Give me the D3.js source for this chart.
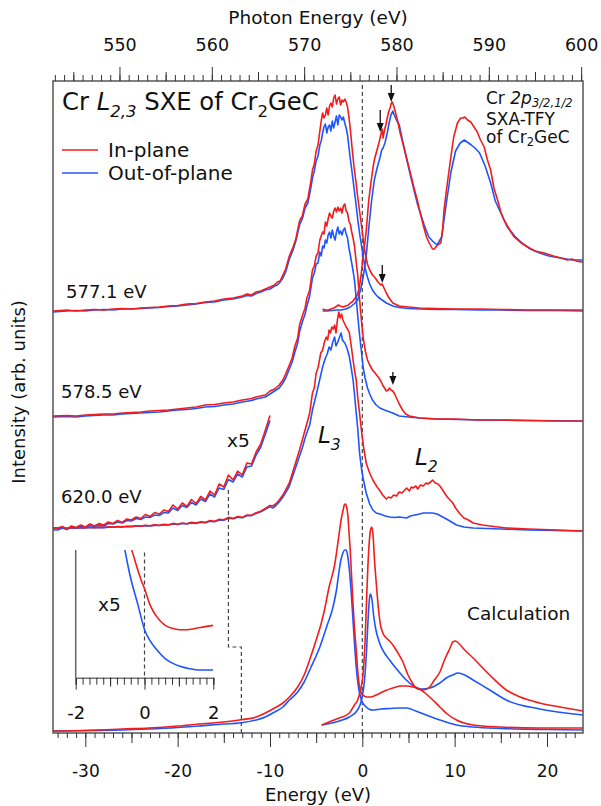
<!DOCTYPE html>
<html>
<head>
<meta charset="utf-8">
<script src="https://cdn.jsdelivr.net/npm/d3@7"></script>
<style>
  body { margin: 0; background: #fff; }
  text { font-family: "DejaVu Sans", sans-serif; fill: #111; }
</style>
</head>
<body>
<script>
// ---- data (energies in eV, intensities in arb. units above each baseline) ----
var bottomTicks = [-30, -20, -10, 0, 10, 20];
var topTicks = [550, 560, 570, 580, 590, 600];
var insetTicks = [-2, 0, 2];

// baseline offsets of the stacked spectra
var offTfy = 4.20, off5771 = 4.22, off5785 = 3.15, off620 = 2.05, offCalc = 0;

// SXA-TFY, photon energy (top axis)
var tfyRed = [[572.0,0.04],[572.3,0.03],[572.6,0.03],[572.9,0.04],[573.2,0.05],[573.4,0.06],[573.7,0.08],[573.9,0.07],[574.2,0.06],[574.5,0.07],[574.8,0.08],[575.0,0.10],[575.2,0.11],[575.45,0.14],[575.6,0.16],[575.8,0.19],[575.95,0.25],[576.1,0.33],[576.25,0.45],[576.4,0.58],[576.6,0.72],[576.75,0.85],[576.9,1.02],[577.0,1.13],[577.15,1.24],[577.3,1.35],[577.45,1.45],[577.6,1.53],[577.8,1.60],[577.95,1.65],[578.15,1.72],[578.35,1.80],[578.45,1.84],[578.55,1.75],[578.7,1.83],[578.85,1.88],[579.0,1.95],[579.15,2.01],[579.3,2.05],[579.45,2.10],[579.55,2.11],[579.7,2.07],[579.85,2.02],[580.1,1.93],[580.4,1.80],[580.8,1.66],[581.15,1.53],[581.5,1.40],[581.9,1.25],[582.25,1.13],[582.6,0.99],[582.95,0.86],[583.25,0.76],[583.5,0.71],[583.9,0.64],[584.1,0.64],[584.35,0.67],[584.6,0.69],[584.8,0.70],[585.0,0.84],[585.15,1.03],[585.4,1.22],[585.7,1.43],[585.95,1.60],[586.2,1.76],[586.6,1.90],[586.95,1.95],[587.2,1.95],[587.4,1.96],[587.7,1.93],[588.05,1.91],[588.4,1.86],[588.75,1.81],[589.1,1.73],[589.5,1.66],[589.85,1.53],[590.2,1.43],[590.55,1.25],[590.95,1.13],[591.3,1.01],[591.65,0.93],[592.2,0.84],[592.75,0.76],[593.5,0.70],[594.2,0.66],[595.0,0.62],[596.0,0.60],[597.0,0.57],[597.8,0.55],[598.5,0.53],[599.0,0.54],[599.5,0.52],[600.0,0.51],[600.2,0.51]];
var tfyBlue = [[572.0,0.02],[572.5,0.02],[573.0,0.025],[573.5,0.03],[574.0,0.03],[574.5,0.04],[575.0,0.06],[575.4,0.09],[575.8,0.13],[576.1,0.23],[576.4,0.36],[576.7,0.55],[577.0,0.85],[577.3,1.12],[577.6,1.33],[577.9,1.45],[578.2,1.55],[578.4,1.63],[578.55,1.65],[578.75,1.70],[579.0,1.80],[579.2,1.90],[579.4,1.98],[579.6,2.02],[579.75,1.98],[580.0,1.93],[580.3,1.88],[580.8,1.66],[581.55,1.36],[582.3,1.08],[583.0,0.88],[583.5,0.76],[583.9,0.72],[584.4,0.68],[584.9,0.76],[585.4,1.10],[585.9,1.41],[586.4,1.62],[586.9,1.70],[587.35,1.73],[587.8,1.70],[588.1,1.68],[588.5,1.65],[589.0,1.60],[589.6,1.47],[590.2,1.30],[590.7,1.12],[591.3,1.00],[592.0,0.86],[592.8,0.77],[593.6,0.70],[594.5,0.64],[595.5,0.60],[596.5,0.57],[597.8,0.55],[599.0,0.53],[600.2,0.53]];

// SXE excited at 577.1 eV
var xes5771Red = [[-33.5,0.00],[-32,0.01],[-31,0.00],[-30,0.01],[-29,0.015],[-28,0.01],[-27,0.02],[-26,0.025],[-25,0.02],[-24,0.03],[-23,0.035],[-22,0.04],[-21,0.05],[-20,0.055],[-19,0.07],[-18,0.075],[-17,0.09],[-16,0.10],[-15,0.12],[-14,0.13],[-13,0.15],[-12.5,0.17],[-12,0.16],[-11.5,0.19],[-11,0.20],[-10.5,0.22],[-10,0.24],[-9.5,0.26],[-9.2,0.29],[-8.9,0.30],[-8.6,0.36],[-8.3,0.42],[-7.9,0.55],[-7.5,0.64],[-7.2,0.72],[-6.8,0.90],[-6.5,0.95],[-6.2,1.07],[-5.9,1.12],[-5.6,1.28],[-5.4,1.41],[-5.2,1.47],[-5.0,1.60],[-4.8,1.66],[-4.6,1.80],[-4.45,1.90],[-4.3,1.98],[-4.15,1.93],[-4.0,1.96],[-3.85,2.03],[-3.7,1.96],[-3.55,2.05],[-3.4,2.08],[-3.25,2.04],[-3.1,2.13],[-2.95,2.16],[-2.8,2.07],[-2.65,2.12],[-2.5,2.14],[-2.35,2.06],[-2.2,2.11],[-2.05,2.09],[-1.9,2.12],[-1.75,2.09],[-1.6,2.04],[-1.45,1.94],[-1.3,1.82],[-1.1,1.62],[-0.9,1.44],[-0.7,1.30],[-0.5,1.14],[-0.3,1.00],[-0.1,0.86],[0.1,0.72],[0.3,0.58],[0.55,0.47],[0.8,0.41],[1.1,0.36],[1.4,0.33],[1.7,0.29],[2.0,0.26],[2.15,0.27],[2.3,0.24],[2.6,0.18],[2.9,0.13],[3.3,0.08],[4.0,0.05],[5,0.04],[6.2,0.03],[8,0.025],[10,0.02],[12.7,0.02],[15,0.015],[18,0.01],[21,0.01],[23.9,0.01]];
var xes5771Blue = [[-33.5,-0.01],[-32,0.00],[-31,0.005],[-30,0.00],[-29,0.01],[-28,0.015],[-27,0.01],[-26,0.02],[-25,0.02],[-24,0.025],[-23,0.03],[-22,0.035],[-21,0.045],[-20,0.05],[-19,0.06],[-18,0.07],[-17,0.085],[-16,0.09],[-15,0.11],[-14,0.12],[-13,0.14],[-12.5,0.155],[-12,0.15],[-11.5,0.175],[-11,0.19],[-10.5,0.21],[-10,0.22],[-9.5,0.25],[-9.2,0.26],[-8.9,0.29],[-8.6,0.33],[-8.3,0.39],[-7.9,0.52],[-7.5,0.61],[-7.2,0.70],[-6.8,0.86],[-6.5,0.92],[-6.2,1.03],[-5.9,1.08],[-5.6,1.22],[-5.4,1.33],[-5.2,1.40],[-5.0,1.50],[-4.8,1.55],[-4.6,1.66],[-4.45,1.70],[-4.3,1.78],[-4.15,1.84],[-4.0,1.87],[-3.85,1.78],[-3.7,1.84],[-3.55,1.86],[-3.4,1.80],[-3.25,1.90],[-3.1,1.83],[-2.95,1.89],[-2.8,1.95],[-2.65,1.86],[-2.5,1.96],[-2.35,1.94],[-2.2,1.91],[-2.05,1.94],[-1.9,1.88],[-1.75,1.83],[-1.6,1.76],[-1.45,1.64],[-1.3,1.52],[-1.1,1.38],[-0.9,1.23],[-0.7,1.08],[-0.5,0.92],[-0.3,0.78],[-0.1,0.66],[0.1,0.54],[0.3,0.43],[0.55,0.34],[0.8,0.27],[1.1,0.21],[1.4,0.17],[1.7,0.14],[2.0,0.12],[2.6,0.08],[3.3,0.05],[4,0.035],[5,0.025],[6.2,0.02],[8,0.015],[10,0.015],[12.7,0.01],[15,0.01],[18,0.005],[21,0.005],[23.9,0.0]];

// SXE excited at 578.5 eV
var xes5785Red = [[-33.5,0.02],[-32,0.025],[-31,0.02],[-30,0.03],[-29,0.035],[-28,0.04],[-27,0.04],[-26,0.05],[-25,0.055],[-24,0.06],[-23,0.07],[-22,0.075],[-21,0.08],[-20,0.09],[-19,0.10],[-18,0.11],[-17,0.13],[-16,0.135],[-15,0.15],[-14,0.16],[-13,0.18],[-12,0.195],[-11.5,0.21],[-11,0.22],[-10.5,0.23],[-10,0.27],[-9.5,0.29],[-9.0,0.33],[-8.6,0.38],[-8.3,0.44],[-7.9,0.53],[-7.6,0.60],[-7.3,0.72],[-7.0,0.80],[-6.8,0.93],[-6.5,1.02],[-6.2,1.10],[-6.0,1.20],[-5.7,1.28],[-5.4,1.48],[-5.2,1.52],[-5.0,1.62],[-4.8,1.65],[-4.6,1.78],[-4.45,1.82],[-4.3,1.86],[-4.15,1.84],[-4.0,1.96],[-3.85,1.92],[-3.7,1.99],[-3.55,2.05],[-3.4,2.02],[-3.25,2.00],[-3.1,2.07],[-2.95,2.10],[-2.8,2.06],[-2.65,2.11],[-2.5,2.07],[-2.35,2.10],[-2.2,2.05],[-2.05,2.12],[-1.9,2.14],[-1.75,2.07],[-1.6,2.05],[-1.45,1.97],[-1.3,1.94],[-1.15,1.86],[-1.0,1.80],[-0.85,1.72],[-0.65,1.55],[-0.5,1.43],[-0.35,1.25],[-0.2,1.08],[-0.05,0.93],[0.13,0.78],[0.35,0.66],[0.56,0.58],[0.8,0.53],[1.1,0.48],[1.3,0.46],[1.54,0.43],[1.8,0.40],[2.0,0.37],[2.2,0.33],[2.4,0.30],[2.6,0.27],[2.8,0.28],[2.95,0.30],[3.1,0.28],[3.3,0.27],[3.5,0.24],[3.7,0.20],[4.0,0.14],[4.36,0.08],[4.7,0.04],[5.1,0.02],[6.2,0.00],[8,-0.01],[10,-0.01],[12.7,-0.02],[15,-0.02],[18,-0.025],[21,-0.03],[23.9,-0.03]];
var xes5785Blue = [[-33.5,0.01],[-32,0.015],[-31,0.01],[-30,0.02],[-29,0.025],[-28,0.03],[-27,0.03],[-26,0.04],[-25,0.045],[-24,0.05],[-23,0.055],[-22,0.06],[-21,0.07],[-20,0.08],[-19,0.085],[-18,0.095],[-17,0.11],[-16,0.115],[-15,0.13],[-14,0.14],[-13,0.16],[-12,0.175],[-11.5,0.19],[-11,0.20],[-10.5,0.21],[-10,0.24],[-9.5,0.27],[-9.0,0.30],[-8.6,0.35],[-8.3,0.40],[-7.9,0.49],[-7.6,0.56],[-7.3,0.66],[-7.0,0.75],[-6.8,0.86],[-6.5,0.96],[-6.2,1.04],[-6.0,1.12],[-5.7,1.22],[-5.4,1.40],[-5.2,1.45],[-5.0,1.54],[-4.8,1.55],[-4.6,1.66],[-4.45,1.62],[-4.3,1.72],[-4.15,1.70],[-4.0,1.78],[-3.85,1.75],[-3.7,1.83],[-3.55,1.86],[-3.4,1.80],[-3.25,1.88],[-3.1,1.82],[-2.95,1.78],[-2.8,1.86],[-2.65,1.91],[-2.5,1.84],[-2.35,1.87],[-2.2,1.83],[-2.05,1.88],[-1.9,1.90],[-1.75,1.84],[-1.6,1.80],[-1.45,1.70],[-1.3,1.63],[-1.15,1.55],[-1.0,1.47],[-0.85,1.38],[-0.65,1.18],[-0.5,1.03],[-0.35,0.88],[-0.2,0.75],[0.1,0.50],[0.3,0.40],[0.56,0.30],[0.8,0.24],[1.1,0.18],[1.5,0.13],[1.9,0.10],[2.4,0.08],[3.0,0.06],[3.3,0.05],[4.0,0.02],[5,0.01],[6.2,0.00],[8,-0.01],[12.7,-0.02],[18,-0.025],[23.9,-0.03]];

// SXE excited at 620.0 eV: low-energy tail (also shown x5) and main part
var xes620TailRed = [[-33.5,0.000],[-33.0,0.000],[-32.5,0.003],[-32.0,-0.002],[-31.5,0.004],[-31.0,0.001],[-30.5,0.006],[-30.0,0.002],[-29.5,0.008],[-29.0,0.004],[-28.5,0.009],[-28.0,0.006],[-27.5,0.012],[-27.0,0.009],[-26.5,0.015],[-26.0,0.011],[-25.5,0.018],[-25.0,0.016],[-24.5,0.022],[-24.0,0.019],[-23.5,0.027],[-23.0,0.023],[-22.5,0.031],[-22.0,0.028],[-21.5,0.036],[-21.0,0.033],[-20.5,0.046],[-20.0,0.038],[-19.5,0.050],[-19.0,0.043],[-18.5,0.057],[-18.0,0.049],[-17.5,0.063],[-17.0,0.056],[-16.5,0.074],[-16.0,0.066],[-15.5,0.088],[-15.0,0.082],[-14.5,0.106],[-14.0,0.096],[-13.5,0.114],[-13.0,0.106],[-12.5,0.130],[-12.0,0.128],[-11.5,0.152],[-11.0,0.168],[-10.5,0.196],[-10.0,0.225]];
var xes620TailBlue = [[-33.5,-0.004],[-33.0,-0.004],[-32.5,0.000],[-32.0,-0.003],[-31.5,0.002],[-31.0,0.000],[-30.5,0.003],[-30.0,0.001],[-29.5,0.005],[-29.0,0.003],[-28.5,0.006],[-28.0,0.004],[-27.5,0.009],[-27.0,0.008],[-26.5,0.012],[-26.0,0.010],[-25.5,0.015],[-25.0,0.014],[-24.5,0.019],[-24.0,0.017],[-23.5,0.022],[-23.0,0.021],[-22.5,0.026],[-22.0,0.025],[-21.5,0.031],[-21.0,0.030],[-20.5,0.040],[-20.0,0.035],[-19.5,0.045],[-19.0,0.041],[-18.5,0.051],[-18.0,0.046],[-17.5,0.058],[-17.0,0.053],[-16.5,0.068],[-16.0,0.062],[-15.5,0.080],[-15.0,0.077],[-14.5,0.097],[-14.0,0.092],[-13.5,0.108],[-13.0,0.102],[-12.5,0.122],[-12.0,0.124],[-11.5,0.146],[-11.0,0.162],[-10.5,0.188],[-10.0,0.215]];
var xes620Red = [[-9.7,0.22],[-9.4,0.24],[-9.0,0.28],[-8.6,0.33],[-8.2,0.40],[-7.9,0.45],[-7.5,0.57],[-7.2,0.66],[-6.8,0.78],[-6.5,0.88],[-6.2,0.98],[-5.9,1.08],[-5.7,1.15],[-5.4,1.35],[-5.2,1.40],[-5.0,1.55],[-4.8,1.60],[-4.5,1.75],[-4.3,1.78],[-4.1,1.86],[-3.9,1.91],[-3.75,1.88],[-3.6,1.98],[-3.45,1.95],[-3.3,2.01],[-3.15,1.99],[-3.0,2.03],[-2.85,1.95],[-2.7,2.08],[-2.55,2.16],[-2.4,2.10],[-2.25,2.14],[-2.1,2.08],[-1.95,2.05],[-1.75,2.01],[-1.6,1.99],[-1.4,1.95],[-1.2,1.82],[-1.0,1.68],[-0.85,1.58],[-0.66,1.48],[-0.5,1.31],[-0.3,1.15],[-0.1,0.98],[0.15,0.80],[0.42,0.65],[0.75,0.56],[1.14,0.48],[1.6,0.41],[2.0,0.36],[2.2,0.33],[2.6,0.29],[2.85,0.31],[3.1,0.30],[3.4,0.33],[3.7,0.32],[4.0,0.36],[4.3,0.35],[4.6,0.38],[4.8,0.40],[5.1,0.37],[5.3,0.41],[5.5,0.40],[5.8,0.42],[6.0,0.39],[6.3,0.43],[6.6,0.42],[6.9,0.45],[7.1,0.44],[7.4,0.46],[7.6,0.48],[7.9,0.45],[8.2,0.44],[8.4,0.42],[8.7,0.38],[8.9,0.35],[9.2,0.31],[9.5,0.28],[9.8,0.25],[10.1,0.20],[10.5,0.15],[11.0,0.10],[11.5,0.08],[12.0,0.05],[13.0,0.03],[13.8,0.02],[15.6,0.00],[18,-0.01],[21,-0.02],[23.9,-0.03]];
var xes620Blue = [[-9.7,0.20],[-9.4,0.22],[-9.0,0.26],[-8.6,0.31],[-8.2,0.37],[-7.9,0.42],[-7.5,0.53],[-7.2,0.61],[-6.8,0.72],[-6.5,0.80],[-6.2,0.90],[-5.9,0.98],[-5.7,1.03],[-5.4,1.18],[-5.0,1.33],[-4.7,1.45],[-4.3,1.61],[-4.0,1.70],[-3.8,1.74],[-3.6,1.81],[-3.4,1.78],[-3.2,1.86],[-3.0,1.91],[-2.85,1.82],[-2.7,1.85],[-2.5,1.90],[-2.3,1.95],[-2.15,1.88],[-1.9,1.85],[-1.75,1.82],[-1.6,1.78],[-1.4,1.71],[-1.2,1.60],[-1.0,1.48],[-0.85,1.34],[-0.66,1.15],[-0.5,1.00],[-0.3,0.75],[-0.1,0.60],[0.08,0.50],[0.42,0.35],[0.8,0.24],[1.14,0.18],[1.5,0.15],[1.9,0.14],[2.5,0.12],[2.95,0.11],[3.5,0.105],[4.0,0.11],[4.8,0.10],[5.2,0.12],[5.7,0.13],[6.2,0.14],[6.6,0.15],[7.1,0.15],[7.6,0.15],[8.1,0.14],[8.7,0.11],[9.3,0.08],[10.2,0.03],[11,0.01],[12.0,0.0],[15,-0.01],[18,-0.02],[21,-0.025],[23.9,-0.03]];

// calculated emission and absorption
var calcXesRed = [[-33.5,0.02],[-30,0.025],[-28.5,0.03],[-26,0.04],[-23.1,0.05],[-20,0.07],[-17.7,0.09],[-15,0.11],[-13.3,0.13],[-11.5,0.16],[-10.5,0.20],[-9.5,0.25],[-8.6,0.30],[-7.9,0.36],[-7.0,0.46],[-6.3,0.58],[-5.6,0.76],[-5.0,0.93],[-4.5,1.08],[-4.1,1.23],[-3.6,1.46],[-3.0,1.68],[-2.8,1.80],[-2.5,2.00],[-2.3,2.13],[-2.1,2.22],[-1.95,2.28],[-1.82,2.29],[-1.7,2.26],[-1.57,2.18],[-1.45,2.02],[-1.31,1.83],[-1.17,1.58],[-1.03,1.33],[-0.85,1.05],[-0.66,0.83],[-0.48,0.60],[-0.3,0.46],[-0.1,0.40],[0.2,0.37],[0.5,0.36],[0.9,0.36],[1.5,0.38],[2.4,0.42],[3.3,0.45],[4.2,0.47],[4.8,0.47],[5.5,0.46],[6.2,0.44],[6.8,0.40],[7.3,0.36],[8.4,0.26],[9.2,0.19],[10.2,0.13],[12.0,0.08],[14.9,0.06],[19.2,0.05],[23.9,0.05]];
var calcXesBlue = [[-33.5,0.02],[-30,0.025],[-26,0.03],[-23.1,0.04],[-20,0.055],[-17.7,0.07],[-15,0.09],[-13.3,0.10],[-11.5,0.13],[-10.5,0.16],[-9.5,0.21],[-8.6,0.26],[-7.9,0.33],[-7.0,0.41],[-6.3,0.51],[-5.6,0.65],[-4.6,0.86],[-3.8,1.08],[-3.2,1.25],[-2.8,1.43],[-2.5,1.63],[-2.3,1.74],[-2.1,1.80],[-1.9,1.83],[-1.75,1.83],[-1.6,1.78],[-1.39,1.62],[-1.2,1.40],[-1.03,1.16],[-0.85,0.90],[-0.66,0.66],[-0.48,0.50],[-0.3,0.40],[-0.1,0.33],[0.05,0.30],[0.42,0.26],[0.8,0.235],[1.1,0.23],[2.0,0.24],[3.0,0.245],[4.0,0.25],[4.8,0.25],[5.8,0.22],[6.9,0.18],[8.4,0.13],[10.2,0.08],[12.0,0.06],[15,0.045],[20,0.035],[23.9,0.03]];
var calcXasRed = [[-4.4,0.08],[-3.6,0.11],[-2.5,0.15],[-1.4,0.20],[-0.85,0.28],[-0.5,0.33],[-0.2,0.43],[0.05,0.56],[0.3,0.93],[0.46,1.33],[0.6,1.66],[0.73,1.88],[0.89,2.03],[1.03,2.06],[1.16,1.98],[1.32,1.73],[1.51,1.50],[1.76,1.23],[1.97,1.08],[2.22,1.00],[2.6,0.95],[2.95,0.92],[3.31,0.88],[3.8,0.81],[4.4,0.71],[4.9,0.59],[5.5,0.49],[6.0,0.44],[6.6,0.43],[7.3,0.46],[7.8,0.53],[8.4,0.61],[8.9,0.73],[9.5,0.85],[9.8,0.91],[10.1,0.92],[10.4,0.90],[11.1,0.83],[12.0,0.75],[13.8,0.58],[15.6,0.43],[17.1,0.36],[19.2,0.30],[21.4,0.26],[23.9,0.22]];
var calcXasBlue = [[-4.4,0.08],[-2.5,0.12],[-1.4,0.16],[-0.52,0.23],[-0.09,0.33],[0.24,0.53],[0.46,0.83],[0.62,1.13],[0.78,1.35],[0.89,1.39],[1.05,1.33],[1.22,1.18],[1.43,1.05],[1.87,0.90],[2.4,0.80],[2.95,0.73],[3.8,0.63],[4.76,0.53],[5.55,0.47],[6.4,0.44],[7.3,0.45],[8.4,0.50],[9.1,0.55],[9.8,0.58],[10.35,0.60],[11.1,0.58],[12.0,0.53],[13.8,0.43],[15.6,0.33],[19.2,0.24],[23.9,0.18]];

// inset: calculated curves near 0 eV, x5
var insetRed = [[-0.37,1.0],[-0.28,0.92],[-0.19,0.84],[-0.09,0.76],[0.01,0.69],[0.16,0.57],[0.35,0.48],[0.6,0.41],[0.84,0.385],[1.03,0.375],[1.23,0.375],[1.47,0.385],[1.76,0.40],[2.0,0.41]];
var insetBlue = [[-0.57,1.0],[-0.42,0.80],[-0.19,0.57],[0.01,0.37],[0.16,0.29],[0.35,0.22],[0.6,0.15],[0.84,0.11],[1.03,0.09],[1.32,0.07],[1.61,0.06],[2.0,0.06]];

// arrows: energy, tip height, length (absolute units)
var arrows = [[1.94, 6.01, 0.22], [3.13, 6.31, 0.17], [2.16, 4.50, 0.18], [3.31, 3.48, 0.13]];
// dashed pointer from the x5 tail to the inset
var pointer = [[-14.5, 2.43], [-14.5, 0.86], [-13.1, 0.86], [-13.1, 0]];

var RED = "#f21c1c", BLUE = "#1f55ff";

// ---- drawing ----
d3.select("body").html("");
var svg = d3.select("body").append("svg").attr("width", 601).attr("height", 806);

var x = d3.scaleLinear().domain([-33.5, 23.9]).range([53, 583]);
var xTop = d3.scaleLinear().domain([542.8, 600.2]).range([53, 583]);
var y = d3.scaleLinear().domain([0, 6.52]).range([733, 81]);

svg.append("defs").append("clipPath").attr("id", "clip")
  .append("rect").attr("x", 53).attr("y", 81).attr("width", 530).attr("height", 652);

var plot = svg.append("g").attr("clip-path", "url(#clip)");

// zero line
plot.append("line")
  .attr("x1", x(0)).attr("x2", x(0)).attr("y1", y(0)).attr("y2", y(6.52))
  .attr("stroke", "#444").attr("stroke-width", 1.2).attr("stroke-dasharray", "4,3");

function draw(data, off, xs, color, k, smooth) {
  var line = d3.line()
    .x(function(d){ return xs(d[0]); })
    .y(function(d){ return y(off + k * d[1]); });
  if (smooth) line.curve(d3.curveMonotoneX);
  plot.append("path").datum(data)
    .attr("d", line)
    .attr("fill", "none")
    .attr("stroke", color)
    .attr("stroke-width", 1.6)
    .attr("stroke-linejoin", "round");
}

draw(tfyBlue, offTfy, xTop, BLUE, 1);
draw(tfyRed, offTfy, xTop, RED, 1);
draw(xes5771Blue, off5771, x, BLUE, 1);
draw(xes5771Red, off5771, x, RED, 1);
draw(xes5785Blue, off5785, x, BLUE, 1);
draw(xes5785Red, off5785, x, RED, 1);
draw(xes620TailBlue.concat(xes620Blue), off620, x, BLUE, 1);
draw(xes620TailRed.concat(xes620Red), off620, x, RED, 1);
draw(xes620TailBlue, off620, x, BLUE, 5);
draw(xes620TailRed, off620, x, RED, 5);
draw(calcXesBlue, offCalc, x, BLUE, 1, true);
draw(calcXasBlue, offCalc, x, BLUE, 1, true);
draw(calcXesRed, offCalc, x, RED, 1, true);
draw(calcXasRed, offCalc, x, RED, 1, true);

// pointer to inset
plot.append("path").datum(pointer)
  .attr("d", d3.line().x(function(d){ return x(d[0]); }).y(function(d){ return y(d[1]); }))
  .attr("fill", "none").attr("stroke", "#444").attr("stroke-width", 1.2).attr("stroke-dasharray", "4,3");

// arrows
arrows.forEach(function(a){
  var ax = x(a[0]), tip = y(a[1]), tail = y(a[1] + a[2]);
  plot.append("line").attr("x1", ax).attr("x2", ax).attr("y1", tail).attr("y2", tip - 6)
    .attr("stroke", "#111").attr("stroke-width", 1.3);
  plot.append("path")
    .attr("d", "M" + (ax - 3.5) + "," + (tip - 9) + "L" + (ax + 3.5) + "," + (tip - 9) + "L" + ax + "," + tip + "Z")
    .attr("fill", "#111");
});

// frame
svg.append("rect").attr("x", 53).attr("y", 81).attr("width", 530).attr("height", 652)
  .attr("fill", "none").attr("stroke", "#555").attr("stroke-width", 1.5);

function styleAxis(g) {
  g.select(".domain").remove();
  g.attr("font-family", null).attr("font-size", null);
  g.selectAll(".tick line").attr("stroke", "#333");
}
var plain = function(d){ return String(d); };

// bottom axis
svg.append("g").attr("transform", "translate(0,733)")
  .call(d3.axisBottom(x).tickValues(d3.range(-33, 24, 1)).tickSize(5).tickFormat(""))
  .call(styleAxis);
svg.append("g").attr("transform", "translate(0,733)")
  .call(d3.axisBottom(x).tickValues([-25, -15, -5, 5, 15]).tickSize(10).tickFormat(""))
  .call(styleAxis);
svg.append("g").attr("transform", "translate(0,733)")
  .call(d3.axisBottom(x).tickValues(bottomTicks).tickSize(14).tickPadding(18).tickFormat(plain))
  .call(styleAxis)
  .selectAll("text").style("font-size", "17px").attr("fill", "#111");

// top axis
svg.append("g").attr("transform", "translate(0,81)")
  .call(d3.axisTop(xTop).tickValues(d3.range(543, 601, 1)).tickSize(6).tickFormat(""))
  .call(styleAxis);
svg.append("g").attr("transform", "translate(0,81)")
  .call(d3.axisTop(xTop).tickValues([545, 555, 565, 575, 585, 595]).tickSize(9).tickFormat(""))
  .call(styleAxis);
svg.append("g").attr("transform", "translate(0,81)")
  .call(d3.axisTop(xTop).tickValues(topTicks).tickSize(14).tickPadding(16).tickFormat(plain))
  .call(styleAxis)
  .selectAll("text").style("font-size", "17.5px").attr("fill", "#111");

// axis titles
svg.append("text").attr("x", 318).attr("y", 24).attr("text-anchor", "middle")
  .style("font-size", "18.5px").text("Photon Energy (eV)");
svg.append("text").attr("x", 318).attr("y", 801).attr("text-anchor", "middle")
  .style("font-size", "18px").text("Energy (eV)");
svg.append("text").attr("transform", "translate(25,392) rotate(-90)").attr("text-anchor", "middle")
  .style("font-size", "18px").text("Intensity (arb. units)");

// rich text helper for italics / subscripts
function rich(xp, yp, size, parts, drop) {
  var t = svg.append("text").attr("x", xp).attr("y", yp).style("font-size", size + "px");
  var shift = size * (drop || 0.3), inSub = false;
  parts.forEach(function(p){
    var s = t.append("tspan").text(p.t);
    if (p.i) s.style("font-style", "italic");
    if (p.sub) {
      s.style("font-size", (size * 0.68) + "px");
      if (!inSub) s.attr("dy", shift);
      inSub = true;
    } else if (inSub) {
      s.attr("dy", -shift);
      inSub = false;
    }
  });
  return t;
}

rich(62, 110, 24.3, [{t: "Cr "}, {t: "L", i: true}, {t: "2,3", i: true, sub: true}, {t: " SXE of Cr"}, {t: "2", sub: true}, {t: "GeC"}]);

// legend
svg.append("line").attr("x1", 62).attr("x2", 98).attr("y1", 150).attr("y2", 150).attr("stroke", RED).attr("stroke-width", 1.6);
svg.append("line").attr("x1", 62).attr("x2", 98).attr("y1", 173).attr("y2", 173).attr("stroke", BLUE).attr("stroke-width", 1.6);
svg.append("text").attr("x", 108).attr("y", 157).style("font-size", "20px").text("In-plane");
svg.append("text").attr("x", 108).attr("y", 180).style("font-size", "20px").text("Out-of-plane");

// TFY label
rich(486, 104, 17, [{t: "Cr "}, {t: "2p", i: true}, {t: "3/2,1/2", i: true, sub: true}], 0.2);
svg.append("text").attr("x", 486).attr("y", 124.5).style("font-size", "17px").text("SXA-TFY");
rich(486, 143, 17, [{t: "of Cr"}, {t: "2", sub: true}, {t: "GeC"}], 0.2);

// excitation energies
svg.append("text").attr("x", 66).attr("y", 298).style("font-size", "18px").text("577.1 eV");
svg.append("text").attr("x", 61).attr("y", 398).style("font-size", "18px").text("578.5 eV");
svg.append("text").attr("x", 61).attr("y", 503).style("font-size", "18px").text("620.0 eV");
svg.append("text").attr("x", 227).attr("y", 447).style("font-size", "18.5px").text("x5");

rich(318, 443, 23, [{t: "L", i: true}, {t: "3", i: true, sub: true}]);
rich(415, 465, 23, [{t: "L", i: true}, {t: "2", i: true, sub: true}]);
svg.append("text").attr("x", 467).attr("y", 620).style("font-size", "18.5px").text("Calculation");

// ---- inset ----
var xi = d3.scaleLinear().domain([-2, 2]).range([75.7, 213.3]);
var yi = d3.scaleLinear().domain([0, 1]).range([677.7, 550]);

var inset = svg.append("g");
inset.append("defs").append("clipPath").attr("id", "iclip")
  .append("rect").attr("x", 75.7).attr("y", 550).attr("width", 137.6).attr("height", 127.7);

inset.append("line").attr("x1", xi(-2)).attr("x2", xi(-2)).attr("y1", yi(1)).attr("y2", yi(0))
  .attr("stroke", "#666").attr("stroke-width", 1.5);
inset.append("line").attr("x1", xi(0)).attr("x2", xi(0)).attr("y1", yi(0.98)).attr("y2", yi(0))
  .attr("stroke", "#444").attr("stroke-width", 1.2).attr("stroke-dasharray", "4,3");

var iline = d3.line().x(function(d){ return xi(d[0]); }).y(function(d){ return yi(d[1]); }).curve(d3.curveMonotoneX);
var icurves = inset.append("g").attr("clip-path", "url(#iclip)");
icurves.append("path").datum(insetBlue).attr("d", iline).attr("fill", "none").attr("stroke", BLUE).attr("stroke-width", 1.6);
icurves.append("path").datum(insetRed).attr("d", iline).attr("fill", "none").attr("stroke", RED).attr("stroke-width", 1.6);

inset.append("g").attr("transform", "translate(0," + yi(0) + ")")
  .call(d3.axisBottom(xi).tickValues(d3.range(-2, 2.01, 0.2)).tickSize(7).tickFormat(""))
  .call(function(g){ g.select(".domain").attr("stroke", "#333"); g.selectAll(".tick line").attr("stroke", "#333"); });
inset.append("g").attr("transform", "translate(0," + yi(0) + ")")
  .call(d3.axisBottom(xi).tickValues([-1, 1]).tickSize(9).tickFormat(""))
  .call(styleAxis);
inset.append("g").attr("transform", "translate(0," + yi(0) + ")")
  .call(d3.axisBottom(xi).tickValues(insetTicks).tickSize(12).tickPadding(17).tickFormat(plain))
  .call(styleAxis)
  .selectAll("text").style("font-size", "18px").attr("fill", "#111");

inset.append("text").attr("x", 98).attr("y", 611).style("font-size", "18.5px").text("x5");
</script>
</body>
</html>
